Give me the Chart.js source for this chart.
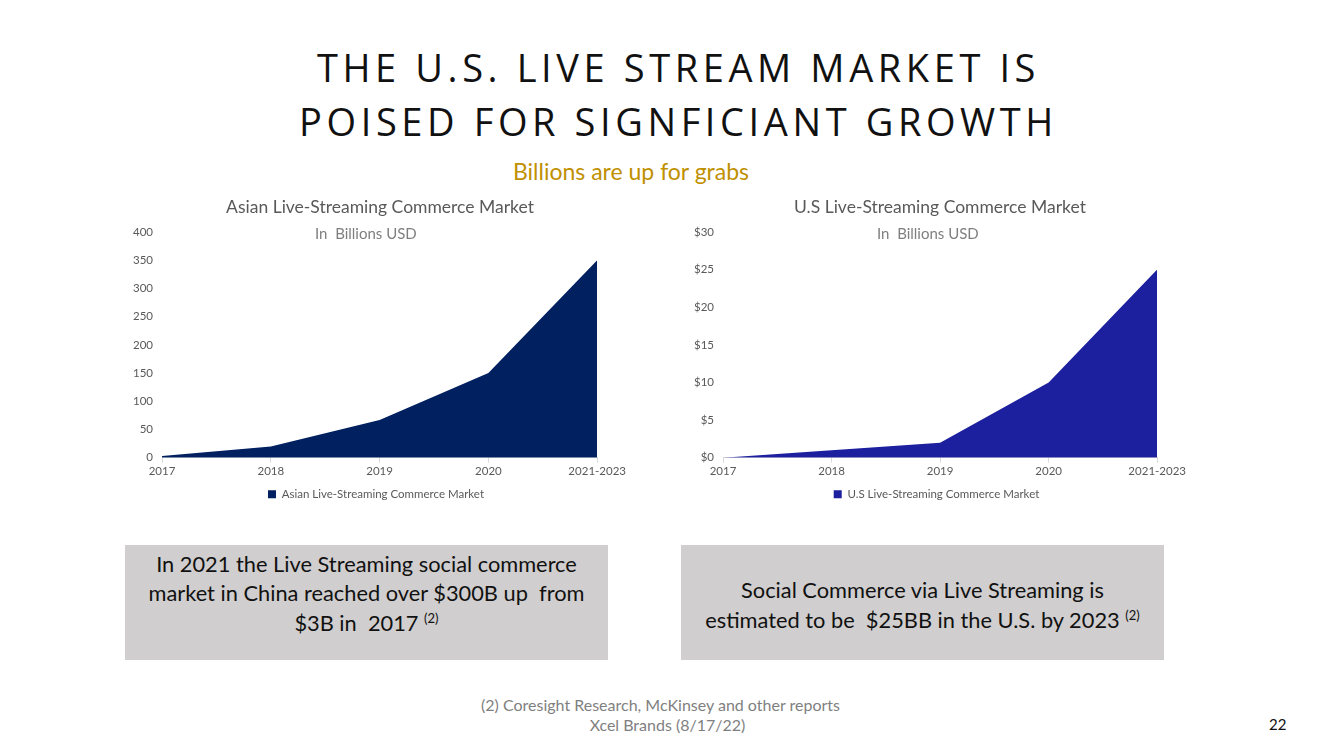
<!DOCTYPE html>
<html>
<head>
<meta charset="utf-8">
<script src="https://cdn.jsdelivr.net/npm/chart.js@4.4.0/dist/chart.umd.min.js"></script>
<style>
  body { margin: 0; width: 1333px; height: 749px; background: #fff; position: relative; overflow: hidden; font-family: Lato, "Open Sans", sans-serif; }
  .abs { position: absolute; }
  #title { left: 12px; width: 1333px; top: 40px; text-align: center; font-family: "Open Sans", sans-serif; font-size: 38px; line-height: 54px; letter-spacing: 4.6px; color: #111; }
  #tagline { left: 0; width: 1262px; top: 157px; text-align: center; font-size: 23px; color: #BF9000; }
  .ctitle { top: 196px; width: 400px; text-align: center; font-size: 17.5px; color: #595959; }
  .sub { top: 224px; font-size: 15px; color: #7F7F7F; }
  .box { background: #D0CECE; top: 545px; height: 115px; width: 483px; box-sizing: border-box; display: flex; align-items: center; justify-content: center; text-align: center; font-size: 21.8px; line-height: 29.5px; color: #111; }
  .box sup { font-size: 13px; line-height: 0; vertical-align: 8px; }
  #foot { left: -6px; width: 1333px; top: 695px; text-align: center; font-size: 16px; line-height: 20px; color: #7F7F7F; }
  #page { left: 1269px; top: 715px; font-size: 15px; color: #111; }
</style>
</head>
<body>
<div id="title" class="abs">THE U.S. LIVE STREAM MARKET IS<br>POISED FOR SIGNFICIANT GROWTH</div>
<div id="tagline" class="abs">Billions are up for grabs</div>

<div class="abs" style="left:132px; top:190px; width:496px; height:320px;"><canvas id="asiaChart"></canvas></div>
<div class="abs" style="left:693px; top:190px; width:495px; height:320px;"><canvas id="usChart"></canvas></div>
<div class="abs ctitle" style="left:180px;">Asian Live-Streaming Commerce Market</div>
<div class="abs ctitle" style="left:740px;">U.S Live-Streaming Commerce Market</div>
<div class="abs sub" style="left:315px;">In&nbsp; Billions USD</div>
<div class="abs sub" style="left:877px;">In&nbsp; Billions USD</div>

<div class="abs box" style="left:125px; padding-bottom:19px;"><div>In 2021 the Live Streaming social commerce<br>market in China reached over $300B up&nbsp; from<br>$3B in&nbsp; 2017 <sup>(2)</sup></div></div>
<div class="abs box" style="left:681px; padding-top:4px;"><div>Social Commerce via Live Streaming is<br>estimated to be&nbsp; $25BB in the U.S. by 2023 <sup>(2)</sup></div></div>

<div id="foot" class="abs">(2) Coresight Research, McKinsey and other reports<br><span style="padding-left:14px;">Xcel Brands (8/17/22)</span></div>
<div id="page" class="abs">22</div>

<script>
var years = ["2017", "2018", "2019", "2020", "2021-2023"];
var asiaValues = [3, 20, 67, 150, 350];
var usValues = [0, 1, 2, 10, 25];

function makeChart(id, label, values, color, max, step, prefix) {
  return new Chart(document.getElementById(id), {
    type: 'line',
    data: {
      labels: years,
      datasets: [{
        label: label,
        data: values,
        fill: 'origin',
        backgroundColor: color,
        borderWidth: 0,
        pointRadius: 0,
        tension: 0
      }]
    },
    options: {
      responsive: true,
      maintainAspectRatio: false,
      animation: false,
      layout: { padding: { left: 0, right: 8, top: 42, bottom: 0 } },
      plugins: {
        title: { display: false },
        legend: {
          position: 'bottom',
          labels: {
            color: '#595959',
            font: { family: 'Lato', size: 11.5 },
            boxWidth: 8,
            boxHeight: 8,
            padding: 8
          }
        },
        tooltip: { enabled: false }
      },
      scales: {
        x: {
          offset: false,
          grid: { drawOnChartArea: false, drawTicks: true, tickLength: 5, color: '#D9D9D9' },
          border: { display: true, color: '#D9D9D9' },
          ticks: { color: '#595959', font: { family: 'Lato', size: 11.5 }, maxRotation: 0, padding: 2 }
        },
        y: {
          min: 0,
          max: max,
          grid: { display: false },
          border: { display: false },
          ticks: {
            stepSize: step,
            color: '#595959',
            font: { family: 'Lato', size: 11.5 },
            padding: 1,
            callback: function (v) { return prefix + v; }
          }
        }
      }
    }
  });
}

makeChart('asiaChart', 'Asian Live-Streaming Commerce Market', asiaValues, '#002060', 400, 50, '');
makeChart('usChart', 'U.S Live-Streaming Commerce Market', usValues, '#1C1F9E', 30, 5, '$');
</script>
</body>
</html>
